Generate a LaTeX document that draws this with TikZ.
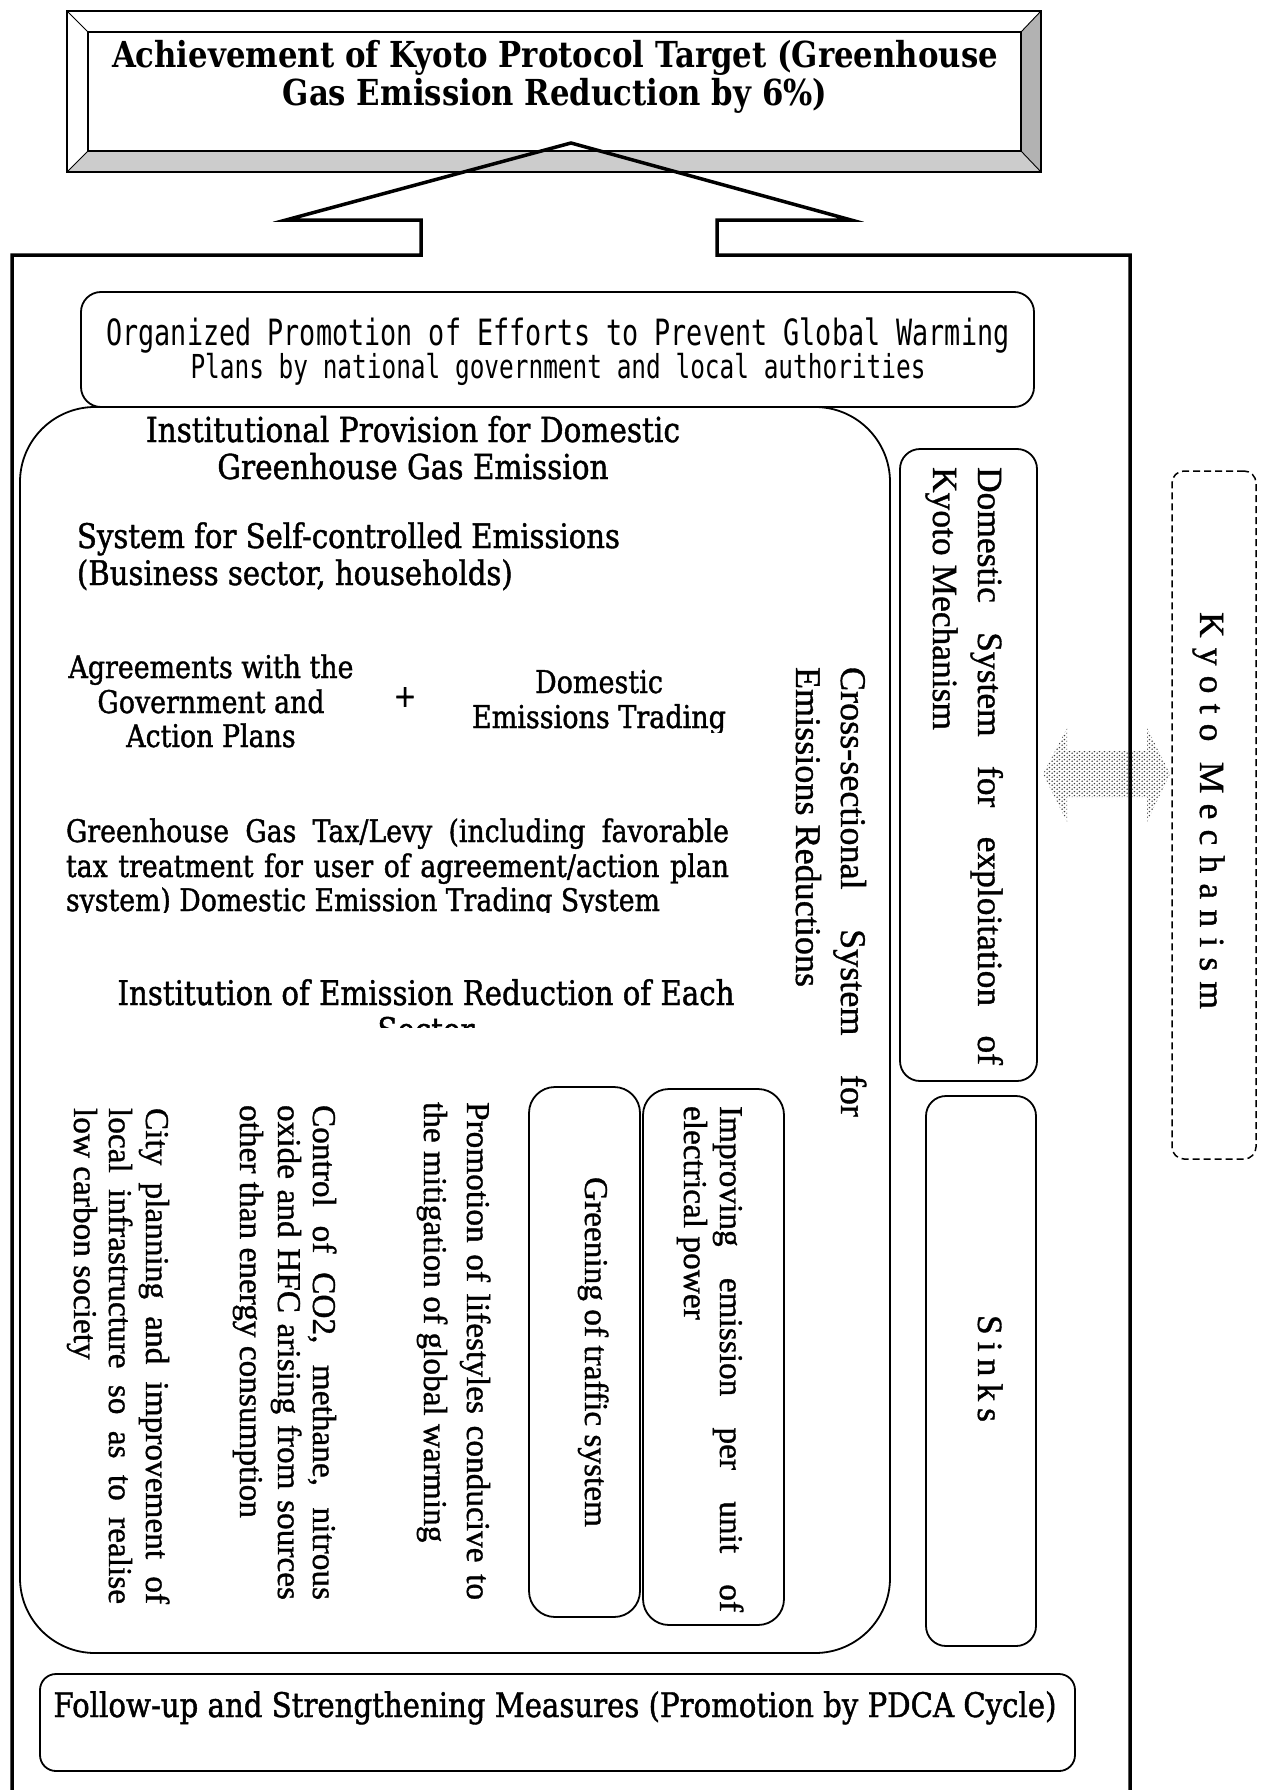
\documentclass[tikz,border=0pt]{standalone}
\usepackage{fontspec}
\setmainfont{DejaVu Serif}[FakeStretch=0.86, UprightFeatures={FakeBold=1.2}]
\newfontfamily\tms{Liberation Serif}[FakeBold=1.0]
\newfontfamily\goth[FakeStretch=0.74]{DejaVu Sans Mono}
\usetikzlibrary{patterns}
\pgfdeclarepatternformonly{hexdots}{\pgfqpoint{0pt}{0pt}}{\pgfqpoint{4.8pt}{4pt}}{\pgfqpoint{4.8pt}{4pt}}{%
  \pgfpathcircle{\pgfqpoint{1.2pt}{1pt}}{0.95pt}%
  \pgfpathcircle{\pgfqpoint{3.6pt}{3pt}}{0.95pt}%
  \pgfusepath{fill}}
\newlength\tmpw
\newcommand\calcsize[4]{\settowidth\tmpw{\normalfont#2\fontsize{10pt}{12pt}\selectfont #4}\pgfmathsetmacro#1{10*#3/\tmpw}\global\let#1#1}
\newcommand\fsz[1]{\fontsize{#1pt}{#1pt}\selectfont}
\AtBeginDocument{%
\calcsize\fsT{\bfseries}{886}{Achievement of Kyoto Protocol Target (Greenhouse}%
\calcsize\fsOA{\goth}{903}{Organized Promotion of Efforts to Prevent Global Warming}%
\calcsize\fsOB{\goth}{735}{Plans by national government and local authorities}%
\calcsize\fsI{}{534}{Institutional Provision for Domestic}%
\calcsize\fsS{}{543}{System for Self-controlled Emissions}%
\calcsize\fsA{}{285}{Agreements with the}%
\calcsize\fsE{}{254}{Emissions Trading}%
\calcsize\fsX{}{594}{system) Domestic Emission Trading System}%
\calcsize\fsN{}{617}{Institution of Emission Reduction of Each}%
\calcsize\fsF{}{1003}{Follow-up and Strengthening Measures (Promotion by PDCA Cycle)}%
\calcsize\fsD{\tms}{263}{Kyoto Mechanism}%
\calcsize\fsC{\tms}{320}{Emissions Reductions}%
\calcsize\fsG{\tms}{350}{Greening of traffic system}%
}
\tikzset{
  txt/.style={inner sep=0pt, outer sep=0pt},
  rot/.style={inner sep=0pt, outer sep=0pt, rotate=-90, anchor=base west},
  box/.style={draw, line width=1.8pt, rounded corners=20pt, inner sep=0pt},
  dbox/.style={draw, line width=1.5pt, rounded corners=12pt, inner sep=0pt, dash pattern=on 7pt off 4pt},
  frameline/.style={line width=3.5pt, line join=miter},
}
\begin{document}
\begin{tikzpicture}[x=1pt,y=-1pt]
\useasboundingbox (0,0) rectangle (1266,1790);
\clip (0,0) rectangle (1266,1790);
\fill[white] (0,0) rectangle (1266,1790);

% bevelled title box
\fill[gray!40] (67,172) -- (88,151) -- (1021,151) -- (1041,172) -- cycle;
\fill[gray!60] (1021,151) -- (1041,172) -- (1041,11) -- (1021,32) -- cycle;
\draw[line width=1.6pt] (67,11) rectangle (1041,172);
\draw[line width=1.6pt] (88,32) rectangle (1021,151);
\draw[line width=0.9pt] (67,11) -- (88,32) (1041,11) -- (1021,32) (67,172) -- (88,151) (1041,172) -- (1021,151);
\node[txt, anchor=base] (t1) at (555,68) {\bfseries\fsz{\fsT}Achievement of Kyoto Protocol Target (Greenhouse};
\node[txt, anchor=base] (t2) at (555,106) {\bfseries\fsz{\fsT}Gas Emission Reduction by 6\%)};

% dotted double arrow
\fill[pattern=hexdots, pattern color=black!75] (1043,774) -- (1067,728) -- (1067,751) -- (1147,751) -- (1147,728) -- (1170,774) -- (1147,822) -- (1147,797) -- (1067,797) -- (1067,822) -- cycle;

% outer frame with block arrow
\draw[frameline] (12,1800) -- (12,255) -- (421,255) -- (421,220) -- (286,220) -- (571,143) -- (851,220) -- (717,220) -- (717,255) -- (1130,255) -- (1130,1800);

% boxes
\node[box, minimum width=953pt, minimum height=115pt] (org) at (557.5,349.5) {};
\node[box, rounded corners=75pt, minimum width=870pt, minimum height=1246pt] (inst) at (455,1030) {};
\node[box, minimum width=137pt, minimum height=632pt] (dom) at (968.5,765) {};
\node[box, minimum width=110pt, minimum height=550pt] (sinks) at (981,1371) {};
\node[dbox, minimum width=84pt, minimum height=688pt] (kyo) at (1214,815) {};
\node[box, rounded corners=26pt, minimum width=141pt, minimum height=536pt] (impr) at (713.5,1357) {};
\node[box, rounded corners=26pt, minimum width=111pt, minimum height=530pt] (green) at (584.5,1352) {};
\node[box, rounded corners=16pt, minimum width=1035pt, minimum height=97pt] (fol) at (557.5,1722.5) {};

% organized promotion
\node[txt, anchor=base] (o1) at (558,345) {\goth\fsz{\fsOA}Organized Promotion of Efforts to Prevent Global Warming};
\node[txt, anchor=base] (o2) at (558,378) {\goth\fsz{\fsOB}Plans by national government and local authorities};

% institutional provision
\node[txt, anchor=base] (i1) at (413,442) {\fsz{\fsI}Institutional Provision for Domestic};
\node[txt, anchor=base] (i2) at (413,479) {\fsz{\fsI}Greenhouse Gas Emission};
\node[txt, anchor=base west] (s1) at (77,548) {\fsz{\fsS}System for Self-controlled Emissions};
\node[txt, anchor=base west] (s2) at (77,585) {\fsz{\fsS}(Business sector, households)};
\node[txt, anchor=base] (a1) at (211,678) {\fsz{\fsA}Agreements with the};
\node[txt, anchor=base] (a2) at (211,713) {\fsz{\fsA}Government and};
\node[txt, anchor=base] (a3) at (211,747) {\fsz{\fsA}Action Plans};
\node[txt] (plus) at (405,697) {\fsz{\fsA}+};
\begin{scope}
\clip (430,640) rectangle (770,732);
\node[txt, anchor=base] (e1) at (599,693) {\fsz{\fsE}Domestic};
\node[txt, anchor=base] (e2) at (599,728) {\fsz{\fsE}Emissions Trading};
\end{scope}
\begin{scope}
\clip (40,790) rectangle (760,912);
\node[txt, anchor=base west] (x1) at (66,842) {\fsz{\fsX}\makebox[663pt][s]{Greenhouse Gas Tax/Levy (including favorable}};
\node[txt, anchor=base west] (x2) at (66,877) {\fsz{\fsX}\makebox[663pt][s]{tax treatment for user of agreement/action plan}};
\node[txt, anchor=base west] (x3) at (66,911) {\fsz{\fsX}system) Domestic Emission Trading System};
\end{scope}
\begin{scope}
\clip (80,950) rectangle (780,1027);
\node[txt, anchor=base] (n1) at (426,1005) {\fsz{\fsN}Institution of Emission Reduction of Each};
\node[txt, anchor=base] (n2) at (426,1042) {\fsz{\fsN}Sector};
\end{scope}

% rotated texts
\node[rot] (d1) at (978,467) {\tms\fsz{\fsD}\makebox[598pt][s]{Domestic System for exploitation of}};
\node[rot] (d2) at (933,467) {\tms\fsz{\fsD}Kyoto Mechanism};
\node[rot] (c1) at (841,667) {\tms\fsz{\fsC}\makebox[450pt][s]{Cross-sectional System for}};
\node[rot] (c2) at (796,667) {\tms\fsz{\fsC}Emissions Reductions};
\node[rot] (km) at (1200,612) {\tms\fsz{\fsD}\makebox[397pt][s]{K y o t o \ M e c h a n i s m}};
\node[rot] (sk) at (978,1315) {\tms\fsz{\fsD}\makebox[107pt][s]{S i n k s}};

\node[rot] (p1) at (720,1106) {\tms\fsz{\fsG}\makebox[506pt][s]{Improving emission per unit of}};
\node[rot] (p2) at (684,1106) {\tms\fsz{\fsG}electrical power};
\node[rot, anchor=base] (gr) at (585,1352) {\tms\fsz{\fsG}Greening of traffic system};
\node[rot] (l1) at (467,1102) {\tms\fsz{\fsG}\makebox[498pt][s]{Promotion of lifestyles conducive to}};
\node[rot] (l2) at (424,1102) {\tms\fsz{\fsG}the mitigation of global warming};
\node[rot] (m1) at (313,1105) {\tms\fsz{\fsG}\makebox[495pt][s]{Control of CO2, methane, nitrous}};
\node[rot] (m2) at (278,1105) {\tms\fsz{\fsG}\makebox[495pt][s]{oxide and HFC arising from sources}};
\node[rot] (m3) at (240,1105) {\tms\fsz{\fsG}other than energy consumption};
\node[rot] (y1) at (146,1108) {\tms\fsz{\fsG}\makebox[496pt][s]{City planning and improvement of}};
\node[rot] (y2) at (109,1108) {\tms\fsz{\fsG}\makebox[496pt][s]{local infrastructure so as to realise}};
\node[rot] (y3) at (74,1108) {\tms\fsz{\fsG}low carbon society};

% follow-up
\node[txt, anchor=base] (f1) at (555,1717) {\fsz{\fsF}Follow-up and Strengthening Measures (Promotion by PDCA Cycle)};
\end{tikzpicture}
\end{document}
